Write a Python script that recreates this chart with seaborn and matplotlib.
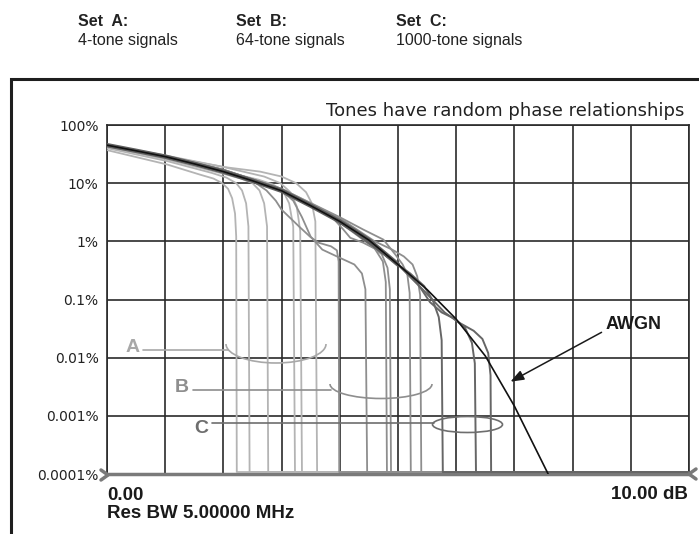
import numpy as np
import pandas as pd
import matplotlib
matplotlib.use('Agg')
import matplotlib.pyplot as plt
from matplotlib.patches import Arc, Ellipse, Rectangle
from matplotlib.lines import Line2D
import seaborn as sns

# floor of the measurement (just above 0.0001 %)
FLOOR = 1.08e-4

# AWGN reference curve (dB, percent)
awgn_db = [0, 0.5, 1, 1.5, 2, 2.5, 3, 3.5, 4, 4.5, 5, 5.5, 6, 6.5, 7, 7.58]
awgn_pct = [45, 36, 28.6, 21.5, 15.8, 11, 7.4, 4.1, 2.2, 1.05, 0.40, 0.148, 0.046, 0.0107, 0.00147, 0.0001]

# the thick band that the 1000-tone traces form at low power
band_db = [0, 0.5, 1, 1.5, 2, 2.5, 3, 3.5, 4, 4.5, 5]
band_pct = [45, 36, 28.6, 21.5, 15.8, 11, 7.4, 4.1, 2.2, 1.05, 0.40]

# Set A: 4-tone signals
set_a = [
    ([0, 1.03, 1.6, 1.83, 1.98, 2.08, 2.15, 2.2, 2.22, 2.23],
     [37, 21, 14, 12, 10, 8, 5.5, 3, 1.2, FLOOR]),
    ([0, 1.03, 1.8, 2.05, 2.22, 2.32, 2.39, 2.43, 2.45],
     [40, 24, 15, 12.5, 10, 7.5, 4.5, 1.8, FLOOR]),
    ([0, 1, 2, 2.3, 2.5, 2.62, 2.7, 2.75, 2.77],
     [42, 26, 14.5, 12, 10, 7.5, 4.5, 1.8, FLOOR]),
    ([0, 1, 2, 2.6, 2.85, 3.02, 3.13, 3.2, 3.23],
     [44, 28, 16, 11.5, 9.5, 7.5, 4.5, 1.8, FLOOR]),
    ([0, 1, 2, 2.7, 2.98, 3.15, 3.26, 3.32, 3.35],
     [45, 30, 19, 13, 10, 7, 4, 1.5, FLOOR]),
    ([0, 1, 2, 2.63, 3.0, 3.25, 3.42, 3.52, 3.58, 3.61],
     [44, 29, 19, 15.8, 13, 10, 7, 4.5, 2.2, FLOOR]),
]

# Set B: 64-tone signals
set_b = [
    ([0, 1, 2, 2.5, 2.74, 2.9, 3.0, 3.3, 3.49, 3.63, 3.85, 3.95, 3.98, 3.99],
     [45, 28.6, 15.8, 11, 7.5, 5, 3.5, 1.8, 1.2, 0.95, 0.82, 0.7, 0.45, FLOOR]),
    ([0, 1, 2, 3, 3.2, 3.35, 3.5, 3.7, 3.95, 4.25, 4.38, 4.44, 4.47],
     [45, 29, 17, 7.5, 5, 2.6, 1.2, 0.72, 0.55, 0.4, 0.28, 0.15, FLOOR]),
    ([0, 1, 2, 3, 3.6, 3.9, 4.06, 4.18, 4.4, 4.6, 4.74, 4.79, 4.81],
     [45, 29, 16.5, 7.8, 3.6, 2.4, 1.6, 1.15, 0.95, 0.75, 0.45, 0.2, FLOOR]),
    ([0, 1, 2, 3, 3.8, 4.2, 4.5, 4.72, 4.82, 4.86, 4.88],
     [45, 29, 17, 8, 2.9, 1.5, 0.9, 0.6, 0.35, 0.15, FLOOR]),
    ([0, 1, 2, 3, 4, 4.4, 4.75, 4.95, 5.08, 5.16, 5.2, 5.22],
     [45, 29, 17, 8, 2.6, 1.6, 1.07, 0.6, 0.4, 0.27, 0.13, FLOOR]),
    ([0, 1, 2, 3, 4, 4.6, 4.9, 5.1, 5.25, 5.33, 5.38, 5.40],
     [45, 29, 17, 8, 2.5, 1.0, 0.72, 0.55, 0.4, 0.25, 0.12, FLOOR]),
]

# Set C: 1000-tone signals
set_c = [
    ([0, 1, 2, 3, 4, 5, 5.21, 5.45, 5.6, 5.7, 5.75, 5.77],
     [45, 28.6, 15.8, 7.4, 2.2, 0.40, 0.28, 0.17, 0.095, 0.05, 0.02, FLOOR]),
    ([0, 1, 2, 3, 4, 5, 5.35, 5.55, 5.75, 5.95, 6.15, 6.27, 6.32, 6.34],
     [45, 28.6, 15.8, 7.4, 2.2, 0.40, 0.18, 0.09, 0.06, 0.048, 0.033, 0.018, 0.008, FLOOR]),
    ([0, 1, 2, 3, 4, 5, 5.45, 5.8, 6.05, 6.3, 6.45, 6.55, 6.59, 6.60],
     [45, 28.6, 15.8, 7.4, 2.2, 0.40, 0.14, 0.06, 0.04, 0.029, 0.021, 0.012, 0.005, FLOOR]),
]

ytick_vals = [1e-4, 1e-3, 1e-2, 1e-1, 1, 10, 100]
ytick_labels = ['0.0001%', '0.001%', '0.01%', '0.1%', '1%', '10%', '100%']

set_colors = {'A': '#b4b4b4', 'B': '#8e8e8e', 'C': '#666666'}

rows = []
for name, curves in [('A', set_a), ('B', set_b), ('C', set_c)]:
    for i, (xs, ys) in enumerate(curves):
        # after the last peak the trace lies on the floor up to the right edge
        for x, y in zip(list(xs) + [10.0], list(ys) + [FLOOR]):
            rows.append((name, name + str(i), x, y))
df = pd.DataFrame(rows, columns=['set', 'curve', 'db', 'pct'])

sns.set_style('white')
plt.rcParams['font.family'] = ['DejaVu Sans']

W, H = 699, 534
fig = plt.figure(figsize=(W / 100, H / 100), dpi=100)
ax = fig.add_axes([107 / W, 60 / H, 582 / W, 349 / H])
ax.set_yscale('log')

for name, lw in [('A', 1.3), ('B', 1.3), ('C', 1.4)]:
    sub = df[df['set'] == name]
    sns.lineplot(data=sub, x='db', y='pct', units='curve', estimator=None, sort=False,
                 color=set_colors[name], lw=lw, ax=ax, legend=False, zorder=3)

band = pd.DataFrame({'db': band_db, 'pct': band_pct})
sns.lineplot(data=band, x='db', y='pct', estimator=None, sort=False,
             color='#5e5e5e', lw=3.2, ax=ax, zorder=4)
awgn = pd.DataFrame({'db': awgn_db, 'pct': awgn_pct})
sns.lineplot(data=awgn, x='db', y='pct', estimator=None, sort=False,
             color='#111111', lw=1.2, ax=ax, zorder=5)

ax.set_xlim(0, 10)
ax.set_ylim(1e-4, 100)
ax.set_xticks(range(11))
ax.set_xticklabels([])
ax.set_yticks(ytick_vals)
ax.set_yticklabels(ytick_labels, fontsize=10, color='#222222')
ax.minorticks_off()
ax.tick_params(length=0, pad=6)
ax.set_xlabel('')
ax.set_ylabel('')
ax.grid(True, color='#2a2a2a', lw=1.2, zorder=1)
ax.set_axisbelow(True)
for s in ['top', 'left', 'right']:
    ax.spines[s].set_color('#2a2a2a')
    ax.spines[s].set_linewidth(1.2)
ax.spines['bottom'].set_color('#7a7a7a')
ax.spines['bottom'].set_linewidth(2.5)


def fx(x):
    return x / W


def fy(y):
    return 1 - y / H


narrow = ['Liberation Sans', 'DejaVu Sans']

# outer frame
fig.patches.append(Rectangle((fx(11), -0.1), 1.2, fy(79) + 0.1, fill=False,
                             ec='#1e1e1e', lw=2.2, transform=fig.transFigure))

# header
for x, head, sub in [(78, 'Set  A:', '4-tone signals'), (236, 'Set  B:', '64-tone signals'),
                     (396, 'Set  C:', '1000-tone signals')]:
    fig.text(fx(x), fy(26.5), head, family=narrow, fontsize=11.5, fontweight='bold',
             color='#222222', va='baseline')
    fig.text(fx(x), fy(45), sub, family=narrow, fontsize=11.5, color='#222222', va='baseline')

fig.text(fx(684), fy(116), 'Tones have random phase relationships', fontsize=13,
         color='#222222', ha='right', va='baseline')

fig.text(fx(107), fy(500), '0.00', family=narrow, fontsize=13.5, fontweight='bold',
         color='#1a1a1a', va='baseline')
fig.text(fx(107), fy(518), 'Res BW 5.00000 MHz', family=narrow, fontsize=13.5,
         fontweight='bold', color='#1a1a1a', va='baseline')
fig.text(fx(688), fy(499), '10.00 dB', family=narrow, fontsize=13.5, fontweight='bold',
         color='#1a1a1a', ha='right', va='baseline')

# axis chevrons
fig.lines.append(Line2D([fx(101), fx(108), fx(101)], [fy(470), fy(475), fy(480)],
                        color='#7a7a7a', lw=2.5, transform=fig.transFigure))
fig.lines.append(Line2D([fx(696), fx(689), fx(696)], [fy(469), fy(474), fy(479)],
                        color='#7a7a7a', lw=2.5, transform=fig.transFigure))

# set call-outs
for lab, lx, ly, x0, x1, yl, col in [('A', 133, 352.5, 143, 228, 350, '#a8a8a8'),
                                     ('B', 182, 392, 193, 331, 389.5, '#8e8e8e'),
                                     ('C', 201, 433, 212, 434, 422.7, '#6e6e6e')]:
    fig.text(fx(lx), fy(ly), lab, family=narrow, fontsize=14, fontweight='bold',
             color=col, ha='center', va='baseline')
    fig.lines.append(Line2D([fx(x0), fx(x1)], [fy(yl), fy(yl)], color=col, lw=1.2,
                            transform=fig.transFigure))

fig.patches.append(Arc((fx(276), fy(344)), 100 / W, 38 / H, theta1=180, theta2=360,
                       color='#a8a8a8', lw=1.2, transform=fig.transFigure))
fig.patches.append(Arc((fx(381), fy(384)), 102 / W, 29 / H, theta1=180, theta2=360,
                       color='#8e8e8e', lw=1.2, transform=fig.transFigure))
fig.patches.append(Ellipse((fx(467.5), fy(424.5)), 70 / W, 16 / H, fill=False,
                           ec='#6e6e6e', lw=1.2, transform=fig.transFigure))

# AWGN call-out
fig.text(fx(606), fy(329), 'AWGN', family=narrow, fontsize=13, fontweight='bold',
         color='#1a1a1a', va='baseline')
ax.annotate('', xy=(fx(508), fy(383)), xytext=(fx(604), fy(331)),
            xycoords='figure fraction', textcoords='figure fraction',
            arrowprops=dict(arrowstyle='-|>,head_length=0.8,head_width=0.3',
                            color='#1a1a1a', lw=1.1))

fig.savefig('out.png', dpi=100)
